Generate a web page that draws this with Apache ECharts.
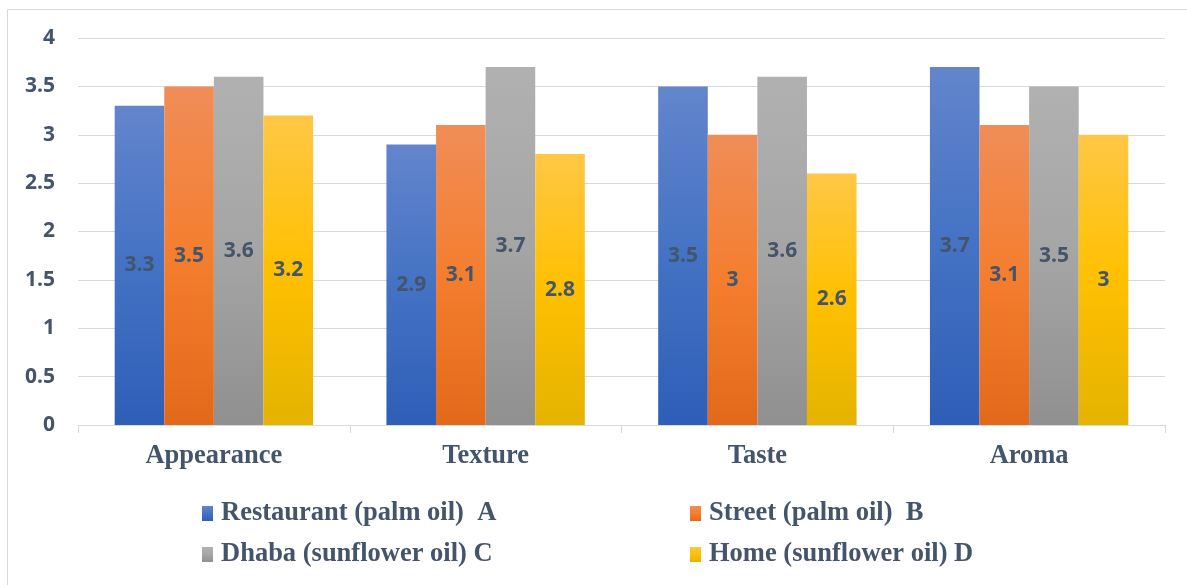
<!DOCTYPE html>
<html>
<head>
<meta charset="utf-8">
<script src="https://cdn.jsdelivr.net/npm/echarts@6/dist/echarts.min.js"></script>
<style>
  html, body { margin: 0; padding: 0; background: #ffffff; }
  #chart { width: 1187px; height: 585px; }
</style>
</head>
<body>
<div id="chart"></div>
<script>
// Sensory attributes scored for each sample
const categories = ['Appearance', 'Texture', 'Taste', 'Aroma'];
const seriesNames = [
  'Restaurant (palm oil)  A',
  'Street (palm oil)  B',
  'Dhaba (sunflower oil) C',
  'Home (sunflower oil) D'
];
const restaurantA = [3.3, 2.9, 3.5, 3.7];
const streetB = [3.5, 3.1, 3.0, 3.1];
const dhabaC = [3.6, 3.7, 3.6, 3.5];
const homeD = [3.2, 2.8, 2.6, 3.0];
const seriesValues = [restaurantA, streetB, dhabaC, homeD];

// top / middle / bottom colours of each bar's vertical gradient
const palettes = [
  ['#6385CC', '#4472C4', '#2E5EB7'],
  ['#F08D58', '#F47E2E', '#E3691A'],
  ['#B1B1B1', '#A5A5A5', '#909090'],
  ['#FFC746', '#FFC000', '#E4B300']
];

const textColor = '#44546A';
const gridColor = '#D9D9D9';

function gradient(p) {
  return new echarts.graphic.LinearGradient(0, 0, 0, 1, [
    { offset: 0, color: p[0] },
    { offset: 0.5, color: p[1] },
    { offset: 1, color: p[2] }
  ]);
}

const chart = echarts.init(document.getElementById('chart'), null, { renderer: 'canvas' });

const series = seriesNames.map((name, i) => ({
  name: name,
  type: 'bar',
  data: seriesValues[i],
  barGap: '0%',
  barCategoryGap: '27%',
  itemStyle: { color: gradient(palettes[i]) },
  label: {
    show: true,
    position: 'inside',
    color: textColor,
    fontFamily: 'Open Sans',
    fontWeight: 'bold',
    fontSize: 21
  }
}));

const legendText = {
  fontFamily: 'Liberation Serif',
  fontWeight: 'bold',
  fontSize: 26.5,
  color: textColor
};

function legendAt(name, left, top) {
  return {
    data: [name],
    left: left,
    top: top,
    itemWidth: 11,
    itemHeight: 15,
    itemGap: 0,
    icon: 'rect',
    textStyle: Object.assign({ padding: [0, 0, 0, 3] }, legendText)
  };
}

chart.setOption({
  animation: false,
  backgroundColor: '#ffffff',
  graphic: [{
    type: 'rect',
    shape: { x: 7.5, y: 9.5, width: 1200, height: 600 },
    style: { fill: 'none', stroke: gridColor, lineWidth: 1 },
    silent: true
  }],
  grid: { left: 78, right: 22, top: 38, bottom: 160, containLabel: false },
  legend: [
    legendAt(seriesNames[0], 197, 495),
    legendAt(seriesNames[1], 685, 495),
    legendAt(seriesNames[2], 197, 536),
    legendAt(seriesNames[3], 685, 536)
  ],
  xAxis: {
    type: 'category',
    data: categories,
    axisLine: { lineStyle: { color: gridColor, width: 1 } },
    axisTick: { show: true, length: 8, lineStyle: { color: gridColor } },
    axisLabel: {
      margin: 18,
      fontFamily: 'Liberation Serif',
      fontWeight: 'bold',
      fontSize: 26.5,
      color: textColor
    }
  },
  yAxis: {
    type: 'value',
    min: 0,
    max: 4,
    interval: 0.5,
    axisLine: { show: false },
    axisTick: { show: false },
    splitLine: { lineStyle: { color: gridColor, width: 1 } },
    axisLabel: {
      margin: 23,
      fontFamily: 'Open Sans',
      fontWeight: 'bold',
      fontSize: 21,
      color: textColor
    }
  },
  series: series
});
</script>
</body>
</html>
